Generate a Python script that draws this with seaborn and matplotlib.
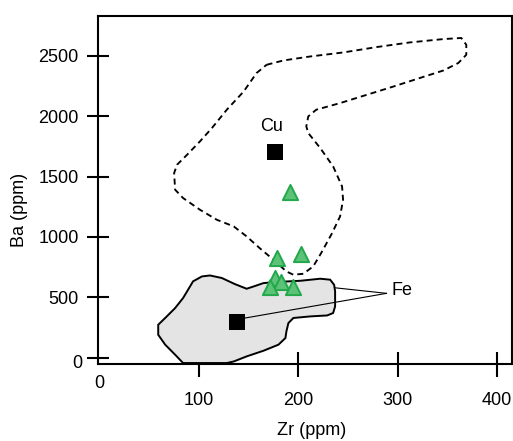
import matplotlib
matplotlib.use('Agg')
import seaborn as sns
from matplotlib import pyplot as plt
import matplotlib.transforms as mtrans
import pandas as pd

# green triangles (samples)
tri_zr = [192, 179, 203, 177, 183, 171, 195]
tri_ba = [1375, 823, 858, 663, 630, 588, 588]

# black squares (ore averages)
sq_zr = [177, 138]
sq_ba = [1705, 298]

# Cu field outline (dashed)
cu_zr = [168, 185, 212, 245, 279, 312, 346, 364, 369, 369, 361, 346, 322, 296, 269, 242,
         218, 210, 208, 210, 222, 235, 244, 245, 242, 234, 223, 215, 205, 195, 188, 175,
         161, 148, 135, 118, 101, 84, 76, 75, 78, 88, 101, 113, 128, 145, 158, 168]
cu_ba = [2425, 2461, 2494, 2527, 2572, 2610, 2638, 2647, 2591, 2508, 2440, 2378, 2315, 2246,
         2177, 2108, 2053, 1998, 1915, 1860, 1736, 1584, 1418, 1308, 1170, 1032, 867, 756,
         695, 687, 714, 811, 908, 1004, 1087, 1142, 1225, 1322, 1391, 1529, 1598, 1680,
         1791, 1901, 2053, 2204, 2357, 2425]

# Fe field outline (grey fill)
fe_zr = [84, 76, 66, 59, 59, 66, 76, 84, 91, 94, 103, 111, 123, 136, 148, 155, 165, 178,
         202, 222, 232, 236, 237, 237, 235, 229, 212, 195, 190, 188, 187, 180, 165, 148,
         135, 128]
fe_ba = [-44, 25, 108, 190, 273, 329, 411, 494, 590, 632, 673, 681, 660, 610, 571, 590,
         618, 627, 637, 654, 646, 604, 549, 425, 370, 350, 342, 329, 287, 218, 163, 108,
         58, 11, -31, -44]

x_ticks = [100, 200, 300, 400]
y_ticks = [0, 500, 1000, 1500, 2000, 2500]

sns.set_style('white')
plt.rcParams['font.family'] = ['Liberation Sans', 'DejaVu Sans']
plt.rcParams['font.size'] = 13
plt.rcParams['text.color'] = 'black'
plt.rcParams['axes.labelcolor'] = 'black'
plt.rcParams['xtick.color'] = 'black'
plt.rcParams['ytick.color'] = 'black'

fig = plt.figure(figsize=(5.13, 4.41), dpi=100)
ax = fig.add_axes([98 / 513, 77 / 441, 414 / 513, 348 / 441])

ax.fill(fe_zr, fe_ba, facecolor='#e4e4e4', edgecolor='black', linewidth=1.4, zorder=1)
ax.plot(cu_zr, cu_ba, color='black', linewidth=1.35, dashes=(3.2, 2.2), zorder=2)

# Fe leader lines
ax.plot([288.8, 236.8], [533, 579], color='black', linewidth=0.8, zorder=2)
ax.plot([288.8, 146], [533, 328], color='black', linewidth=0.8, zorder=2)

sq = pd.DataFrame({'Zr': sq_zr, 'Ba': sq_ba})
sns.scatterplot(data=sq, x='Zr', y='Ba', marker='s', s=125, color='black',
                edgecolor='black', linewidth=0, ax=ax, zorder=3)
tri = pd.DataFrame({'Zr': tri_zr, 'Ba': tri_ba})
sns.scatterplot(data=tri, x='Zr', y='Ba', marker='^', s=120, color='#5cc277',
                edgecolor='#22a84a', linewidth=1.4, ax=ax, zorder=4)

ax.text(173.4, 1915, 'Cu', ha='center', va='center', fontsize=13)
ax.text(304, 555, 'Fe', ha='center', va='center', fontsize=13)

ax.set_xlim(-1.6, 415)
ax.set_ylim(-52, 2829)

ax.set_xticks(x_ticks)
ax.set_yticks(y_ticks)
ax.set_yticklabels(['', '500', '1000', '1500', '2000', '2500'])
ax.tick_params(axis='x', bottom=True, direction='inout', length=18, width=1.5, pad=11,
               labelsize=13, color='black', labelcolor='black')
ax.tick_params(axis='y', left=True, direction='inout', length=16, width=1.5, pad=6,
               labelsize=13, color='black', labelcolor='black')

# the two "0" labels sit apart from the other tick labels
blend_x = mtrans.blended_transform_factory(ax.transData, ax.transAxes)
ax.annotate('0', xy=(0, 0), xycoords=blend_x, xytext=(0, -14), textcoords='offset points',
            ha='center', va='center', fontsize=13, annotation_clip=False)
blend_y = mtrans.blended_transform_factory(ax.transAxes, ax.transData)
ax.annotate('0', xy=(0, 0), xycoords=blend_y, xytext=(-11, -4.5), textcoords='offset points',
            ha='right', va='center', fontsize=13, annotation_clip=False)

for sp in ax.spines.values():
    sp.set_color('black')
    sp.set_linewidth(1.5)

ax.set_xlabel('Zr (ppm)', fontsize=13)
ax.set_ylabel('Ba (ppm)', fontsize=13)
ax.xaxis.set_label_coords(0.517, -0.168)
ax.yaxis.set_label_coords(-0.168, 0.4425)

fig.savefig('out.png', dpi=100)
